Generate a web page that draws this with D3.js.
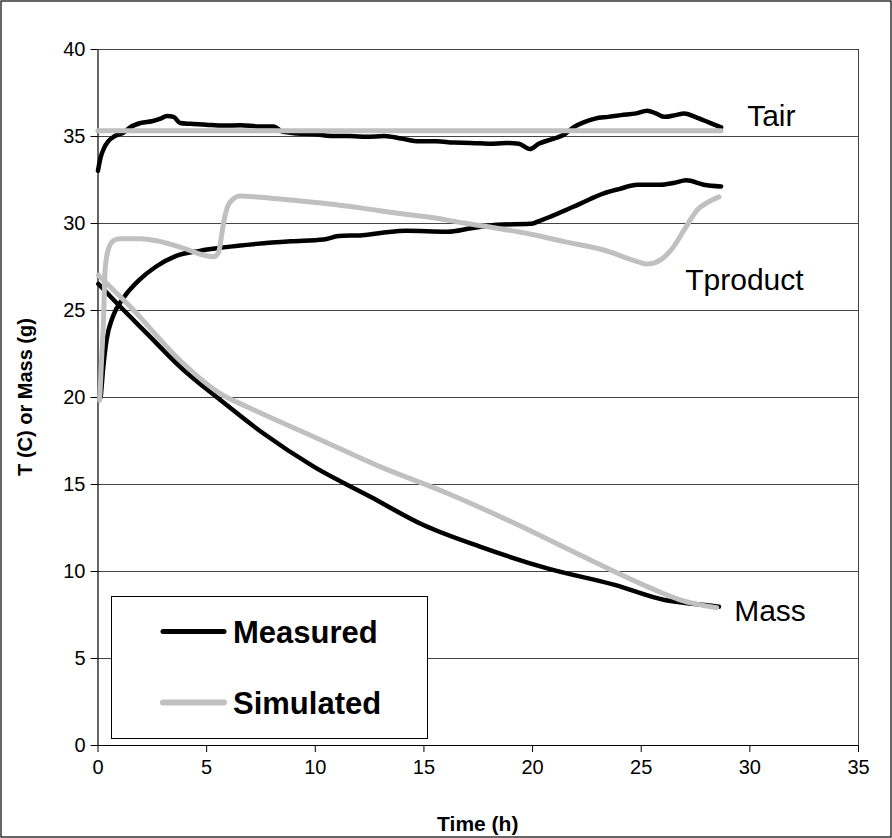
<!DOCTYPE html>
<html>
<head>
<meta charset="utf-8">
<script src="https://cdn.jsdelivr.net/npm/d3@7"></script>
<style>
  html, body { margin: 0; padding: 0; background: #fff; }
  svg { display: block; font-family: "Liberation Sans", Arial, sans-serif; }
</style>
</head>
<body>
<svg id="chart" width="892" height="838"></svg>
<script>
// ---- data ----
const xTicks = [0, 5, 10, 15, 20, 25, 30, 35];
const yTicks = [0, 5, 10, 15, 20, 25, 30, 35, 40];
const seriesNames = ["Measured", "Simulated"];
const curveLabels = ["Tair", "Tproduct", "Mass"];

const tairMeasured = [[0.02,33.0],[0.15,33.8],[0.3,34.3],[0.5,34.7],[0.8,35.0],[1.2,35.2],[1.5,35.5],[2.0,35.75],[2.5,35.85],[2.9,36.0],[3.2,36.15],[3.5,36.1],[3.8,35.75],[4.3,35.7],[5.0,35.65],[5.8,35.6],[6.6,35.62],[7.4,35.55],[8.1,35.55],[8.5,35.25],[9.2,35.15],[10.0,35.1],[10.8,35.0],[11.6,35.0],[12.4,34.95],[13.2,35.0],[14.0,34.85],[14.8,34.7],[15.6,34.7],[16.4,34.62],[17.2,34.6],[18.0,34.55],[18.8,34.6],[19.4,34.55],[19.9,34.25],[20.3,34.55],[21.0,34.85],[21.5,35.1],[21.9,35.5],[22.4,35.8],[22.9,36.0],[23.5,36.1],[24.1,36.2],[24.8,36.3],[25.3,36.45],[25.7,36.3],[26.1,36.1],[26.6,36.2],[27.0,36.3],[27.5,36.1],[27.9,35.9],[28.3,35.7],[28.7,35.5]];
const tairSimulated = [[0.02,35.3],[28.7,35.3]];
const tproductMeasured = [[0.15,20.0],[0.25,21.5],[0.42,23.3],[0.7,24.6],[1.2,25.7],[1.9,26.7],[2.7,27.5],[3.6,28.1],[4.7,28.4],[5.8,28.6],[7.3,28.8],[8.9,28.95],[10.4,29.05],[11.1,29.25],[12.2,29.3],[13.2,29.45],[14.2,29.55],[16.1,29.5],[17.2,29.7],[18.4,29.9],[19.9,29.95],[20.5,30.2],[21.2,30.55],[22.2,31.1],[23.3,31.7],[24.0,31.95],[24.85,32.2],[25.9,32.2],[26.5,32.3],[27.1,32.45],[27.9,32.2],[28.7,32.1]];
const tproductSimulated = [[0.1,19.8],[0.2,22.5],[0.27,24.2],[0.35,27.3],[0.5,28.5],[0.75,29.0],[1.04,29.1],[1.96,29.1],[2.73,28.98],[3.95,28.55],[4.88,28.16],[5.34,28.06],[5.57,28.3],[5.7,29.2],[5.8,30.0],[5.95,30.8],[6.1,31.2],[6.57,31.55],[7.34,31.5],[8.87,31.32],[10.4,31.13],[12.25,30.84],[13.8,30.56],[15.3,30.33],[16.86,30.0],[18.4,29.7],[19.9,29.37],[21.47,28.93],[23.3,28.45],[24.85,27.78],[25.3,27.64],[25.9,27.87],[26.4,28.45],[27.0,29.6],[27.6,30.75],[28.1,31.2],[28.6,31.5]];
const massMeasured = [[0.04,26.5],[1.04,25.2],[2.27,23.66],[3.8,21.74],[5.65,19.83],[7.64,17.9],[9.95,16.0],[12.56,14.27],[15.0,12.64],[17.6,11.4],[20.7,10.15],[23.8,9.2],[26.1,8.33],[27.5,8.1],[28.6,7.95]];
const massSimulated = [[0.04,27.0],[1.5,25.2],[3.8,22.1],[5.65,20.2],[6.88,19.44],[9.95,17.72],[13.0,16.0],[16.1,14.47],[19.2,12.74],[22.2,10.92],[25.3,9.1],[26.84,8.33],[28.5,7.89]];
// label anchor values [t, value]
const labelAnchors = [[29.9,35.6],[27.05,26.15],[29.3,7.14]];

// ---- layout ----
const svg = d3.select("#chart");
const W = 892, H = 838;
const plot = { left: 97.5, right: 858, top: 49, bottom: 745 };
const x = d3.scaleLinear().domain([0, 35]).range([plot.left, plot.right]);
const y = d3.scaleLinear().domain([0, 40]).range([plot.bottom, plot.top]);

const colMeasured = "#000000";
const colSimulated = "#c0c0c0";

// outer frame
svg.append("rect").attr("x", 1).attr("y", 1).attr("width", W - 2).attr("height", H - 2)
  .attr("fill", "#fff").attr("stroke", "#000").attr("stroke-width", 1.2);

// gridlines
svg.append("g").selectAll("line").data(yTicks.filter(d => d > 0)).join("line")
  .attr("x1", plot.left).attr("x2", plot.right)
  .attr("y1", d => Math.round(y(d)) + 0.5).attr("y2", d => Math.round(y(d)) + 0.5)
  .attr("stroke", "#444").attr("stroke-width", 1);

// right border of plot
svg.append("line").attr("x1", Math.round(plot.right) + 0.5).attr("x2", Math.round(plot.right) + 0.5)
  .attr("y1", plot.top).attr("y2", plot.bottom).attr("stroke", "#444");

// axes
const yAxis = d3.axisLeft(y).tickValues(yTicks).tickSize(7).tickSizeOuter(0).tickPadding(5).tickFormat(d3.format("d"));
const gy = svg.append("g").attr("transform", `translate(${plot.left},0)`).call(yAxis);
const xAxis = d3.axisBottom(x).tickValues(xTicks).tickSize(7).tickSizeOuter(0).tickPadding(8).tickFormat(d3.format("d"));
const gx = svg.append("g").attr("transform", `translate(0,${plot.bottom})`).call(xAxis);
[gx, gy].forEach(g => {
  g.select(".domain").attr("stroke", "#000").attr("stroke-width", 1.2);
  g.selectAll(".tick line").attr("stroke", "#000");
  g.selectAll(".tick text").attr("fill", "#000").attr("font-size", 20)
    .attr("font-family", "'Liberation Sans', Arial, sans-serif");
});

// axis titles
svg.append("text").attr("x", (plot.left + plot.right) / 2).attr("y", 831)
  .attr("text-anchor", "middle").attr("font-size", 21).attr("font-weight", "bold").text("Time (h)");
svg.append("text").attr("transform", `translate(32,${(plot.top + plot.bottom) / 2}) rotate(-90)`)
  .attr("text-anchor", "middle").attr("font-size", 20).attr("font-weight", "bold").text("T (C) or Mass (g)");

// lines
const line = d3.line().x(d => x(d[0])).y(d => y(d[1])).curve(d3.curveMonotoneX);
const gl = svg.append("g").attr("fill", "none").attr("stroke-linejoin", "round").attr("stroke-linecap", "round");
[tairMeasured, tproductMeasured, massMeasured].forEach(s => {
  gl.append("path").datum(s).attr("d", line).attr("stroke", colMeasured).attr("stroke-width", 4.5);
});
[tairSimulated, tproductSimulated, massSimulated].forEach(s => {
  gl.append("path").datum(s).attr("d", line).attr("stroke", colSimulated).attr("stroke-width", 5);
});

// curve labels
svg.append("g").selectAll("text").data(curveLabels).join("text")
  .attr("x", (d, i) => x(labelAnchors[i][0]))
  .attr("y", (d, i) => y(labelAnchors[i][1]))
  .attr("font-size", 30).attr("fill", "#000").text(d => d);

// legend
const lg = svg.append("g");
lg.append("rect").attr("x", 111.5).attr("y", 596.5).attr("width", 316).attr("height", 142)
  .attr("fill", "#fff").attr("stroke", "#000").attr("stroke-width", 1);
const legendColors = [colMeasured, colSimulated];
const legendY = [631.5, 702.5];
seriesNames.forEach((name, i) => {
  lg.append("line").attr("x1", 163).attr("x2", 224).attr("y1", legendY[i]).attr("y2", legendY[i])
    .attr("stroke", legendColors[i]).attr("stroke-width", i === 0 ? 5 : 6).attr("stroke-linecap", "round");
  lg.append("text").attr("x", 233).attr("y", legendY[i] + 11.5)
    .attr("font-size", 31).attr("font-weight", "bold").attr("fill", "#000").text(name);
});
</script>
</body>
</html>
